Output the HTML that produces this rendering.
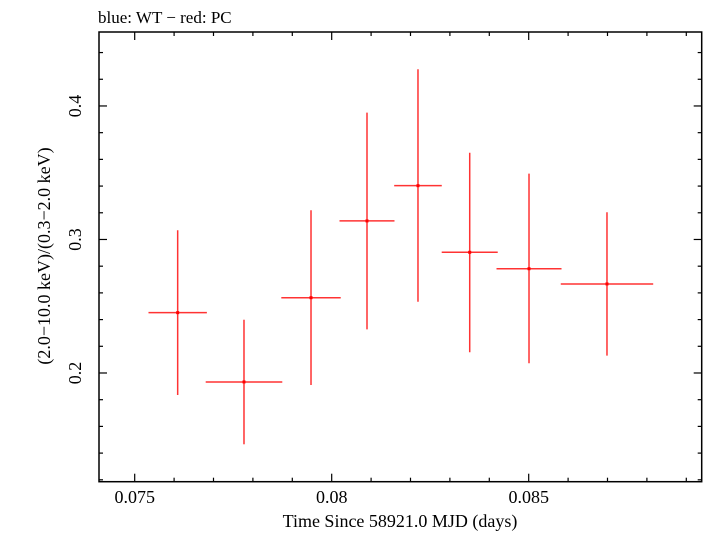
<!DOCTYPE html>
<html><head><meta charset="utf-8"><style>
html,body{margin:0;padding:0;background:#fff;}
svg text{font-family:"Liberation Serif",serif;fill:#000;}
</style></head><body>
<svg id="chart" width="705" height="532" viewBox="0 0 705 532" xmlns="http://www.w3.org/2000/svg">
<text x="98" y="23" font-size="17">blue: WT − red: PC</text>
<g id="axes"></g>
<g id="marks"></g>
<text x="400" y="527" font-size="18" text-anchor="middle">Time Since 58921.0 MJD (days)</text>
<text transform="translate(50,256) rotate(-90)" font-size="18" text-anchor="middle">(2.0−10.0 keV)/(0.3−2.0 keV)</text>
</svg>
<script>
const times = [0.076091, 0.077774, 0.079475, 0.080896, 0.082190, 0.083503, 0.085008, 0.086987];
const timeErr = [0.000741, 0.000972, 0.000754, 0.000698, 0.000604, 0.000711, 0.000825, 0.001173];
const ratio = [0.2452, 0.1933, 0.2564, 0.3139, 0.3403, 0.2904, 0.2781, 0.2667];
const ratioHi = [0.3069, 0.2399, 0.3219, 0.3950, 0.4275, 0.3650, 0.3493, 0.3204];
const ratioLo = [0.1835, 0.1466, 0.1910, 0.2327, 0.2534, 0.2155, 0.2073, 0.2130];
const xTicks = [0.075, 0.08, 0.085];
const xTickLabels = ["0.075", "0.08", "0.085"];
const yTicks = [0.2, 0.3, 0.4];
const yTickLabels = ["0.2", "0.3", "0.4"];

const L=99, R=701.7, T=32, B=481.7;
const xMin=0.074094, xMax=0.089391, yMin=0.11858, yMax=0.4554;
const sx = v => L + (v - xMin) / (xMax - xMin) * (R - L);
const sy = v => B - (v - yMin) / (yMax - yMin) * (B - T);
const NS="http://www.w3.org/2000/svg";
function mk(tag, attrs, parent){const e=document.createElementNS(NS,tag);for(const k in attrs)e.setAttribute(k,attrs[k]);parent.appendChild(e);return e;}
const axes=document.getElementById('axes');
const frame=mk('rect',{x:L,y:T,width:R-L,height:B-T,fill:'none',stroke:'#000','stroke-width':1.5},axes);


// x minor/major ticks
for(let i=74;i<=89;i++){
  const v=i/1000; const x=sx(v); if(x<L||x>R)continue;
  const major = (i%5===0); const len = major?8:4;
  const t1=mk('line',{x1:x,y1:B,x2:x,y2:B-len,stroke:'#000','stroke-width':1.2},axes);
  
  
  const t2=mk('line',{x1:x,y1:T,x2:x,y2:T+len,stroke:'#000','stroke-width':1.2},axes);
  
  
}
xTicks.forEach((v,i)=>{
  const t=mk('text',{x:sx(v),y:503,'font-size':18,'text-anchor':'middle'},axes);
  t.textContent=xTickLabels[i];
  
  
});
for(let i=6;i<=22;i++){
  const v=i*0.02; const y=sy(v); if(y<T||y>B)continue;
  const major=(i%5===0); const len=major?8:4;
  const t1=mk('line',{x1:L,y1:y,x2:L+len,y2:y,stroke:'#000','stroke-width':1.2},axes);
  
  
  const t2=mk('line',{x1:R,y1:y,x2:R-len,y2:y,stroke:'#000','stroke-width':1.2},axes);
  
  
}
yTicks.forEach((v,i)=>{
  const y=sy(v);
  const t=mk('text',{x:0,y:0,'font-size':18,'text-anchor':'middle',transform:`translate(81,${y}) rotate(-90)`},axes);
  t.textContent=yTickLabels[i];
  
  
});
const marks=document.getElementById('marks');
times.forEach((t,i)=>{
  const g=mk('g',{},marks);
  
  
  const x=sx(t), y=sy(ratio[i]);
  mk('line',{x1:sx(t-timeErr[i]),y1:y,x2:sx(t+timeErr[i]),y2:y,stroke:'#ff0000','stroke-width':1.5,'stroke-opacity':0.8},g);
  mk('line',{x1:x,y1:sy(ratioHi[i]),x2:x,y2:sy(ratioLo[i]),stroke:'#ff0000','stroke-width':1.5,'stroke-opacity':0.8},g);
  mk('rect',{x:x-1.5,y:y-1.5,width:3,height:3,fill:'#ff0000'},g);
});
</script>
</body></html>
